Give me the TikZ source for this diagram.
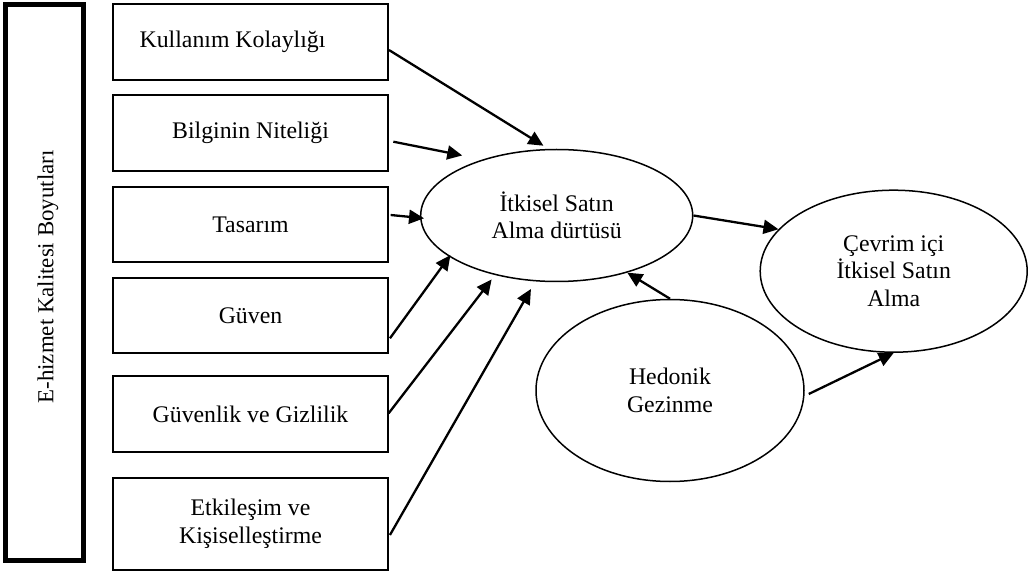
\documentclass[tikz,border=0pt]{standalone}
\usepackage{fontspec}
\setmainfont{Liberation Serif}
\usetikzlibrary{arrows.meta,shapes.geometric,calc}
\begin{document}
\begin{tikzpicture}[x=1pt,y=-1pt,
  dimbox/.style={draw, line width=1.3pt, minimum width=275pt, inner sep=0pt},
  ovalnode/.style={draw, ellipse, line width=1.5pt, inner sep=0pt, align=center},
  lbl/.style={font=\fontsize{23.8}{27.5}\selectfont, align=center},
  arr/.style={line width=2.3pt, -{Triangle[length=15pt,width=14pt]}}
]
\useasboundingbox (0,0) rectangle (1034,572);
% left dimension frame
\node[draw, line width=5pt, minimum width=78pt, minimum height=556pt, inner sep=0pt] (dim) at (44.5,282.5) {};
\node[lbl, rotate=90, font=\fontsize{22.9}{27}\selectfont] (dimt) at (48,277) {E-hizmet Kalitesi Boyutları};
% boxes
\node[dimbox, minimum height=76pt] (b1) at (250.5,42) {};
\node[lbl] (b1t) at (232.5,42) {Kullanım Kolaylığı};
\node[dimbox, lbl, minimum height=76pt] (b2) at (250.5,133) {Bilginin Niteliği};
\node[dimbox, lbl, minimum height=75pt] (b3) at (250.5,224.5) {Tasarım};
\node[dimbox, lbl, minimum height=75pt] (b4) at (250.5,315.5) {Güven};
\node[dimbox, lbl, minimum height=76pt] (b5) at (250.5,414) {Güvenlik ve Gizlilik};
\node[dimbox, lbl, minimum height=92pt] (b6) at (250.5,524) {Etkileşim ve\\Kişiselleştirme};
% ellipses
\node[ovalnode, lbl, minimum width=272pt, minimum height=132pt] (e1) at (556.7,215.5) {İtkisel Satın\\Alma dürtüsü};
\node[ovalnode, lbl, minimum width=267pt, minimum height=162pt] (e2) at (893.7,271.2) {Çevrim içi\\İtkisel Satın\\Alma};
\node[ovalnode, lbl, minimum width=268pt, minimum height=182pt] (e3) at (670,390.5) {Hedonik\\Gezinme};
% arrows
\draw[arr, shorten >=6pt] ($(b1.east)+(0.3,8)$) -- (e1.97);
\draw[arr, shorten >=20.5pt] ($(b2.east)+(4.7,8.7)$) -- (e1.143);
\draw[arr, shorten >=-4pt] ($(b3.east)+(2,-9.5)$) -- (e1.181);
\draw[arr, shorten >=-2pt] ($(b4.east)+(1.3,22.8)$) -- (e1.201);
\draw[arr, shorten >=5.6pt] ($(b5.east)+(0,-0.7)$) -- (e1.224);
\draw[arr, shorten >=8.7pt] ($(b6.east)+(1.3,11)$) -- (e1.252);
\draw[arr] (e1.east) -- (e2.160);
\draw[arr] (e3.north) -- (e1.321);
\draw[arr] ($(e3.east)+(4,3.5)$) -- (e2.south);
\end{tikzpicture}
\end{document}
